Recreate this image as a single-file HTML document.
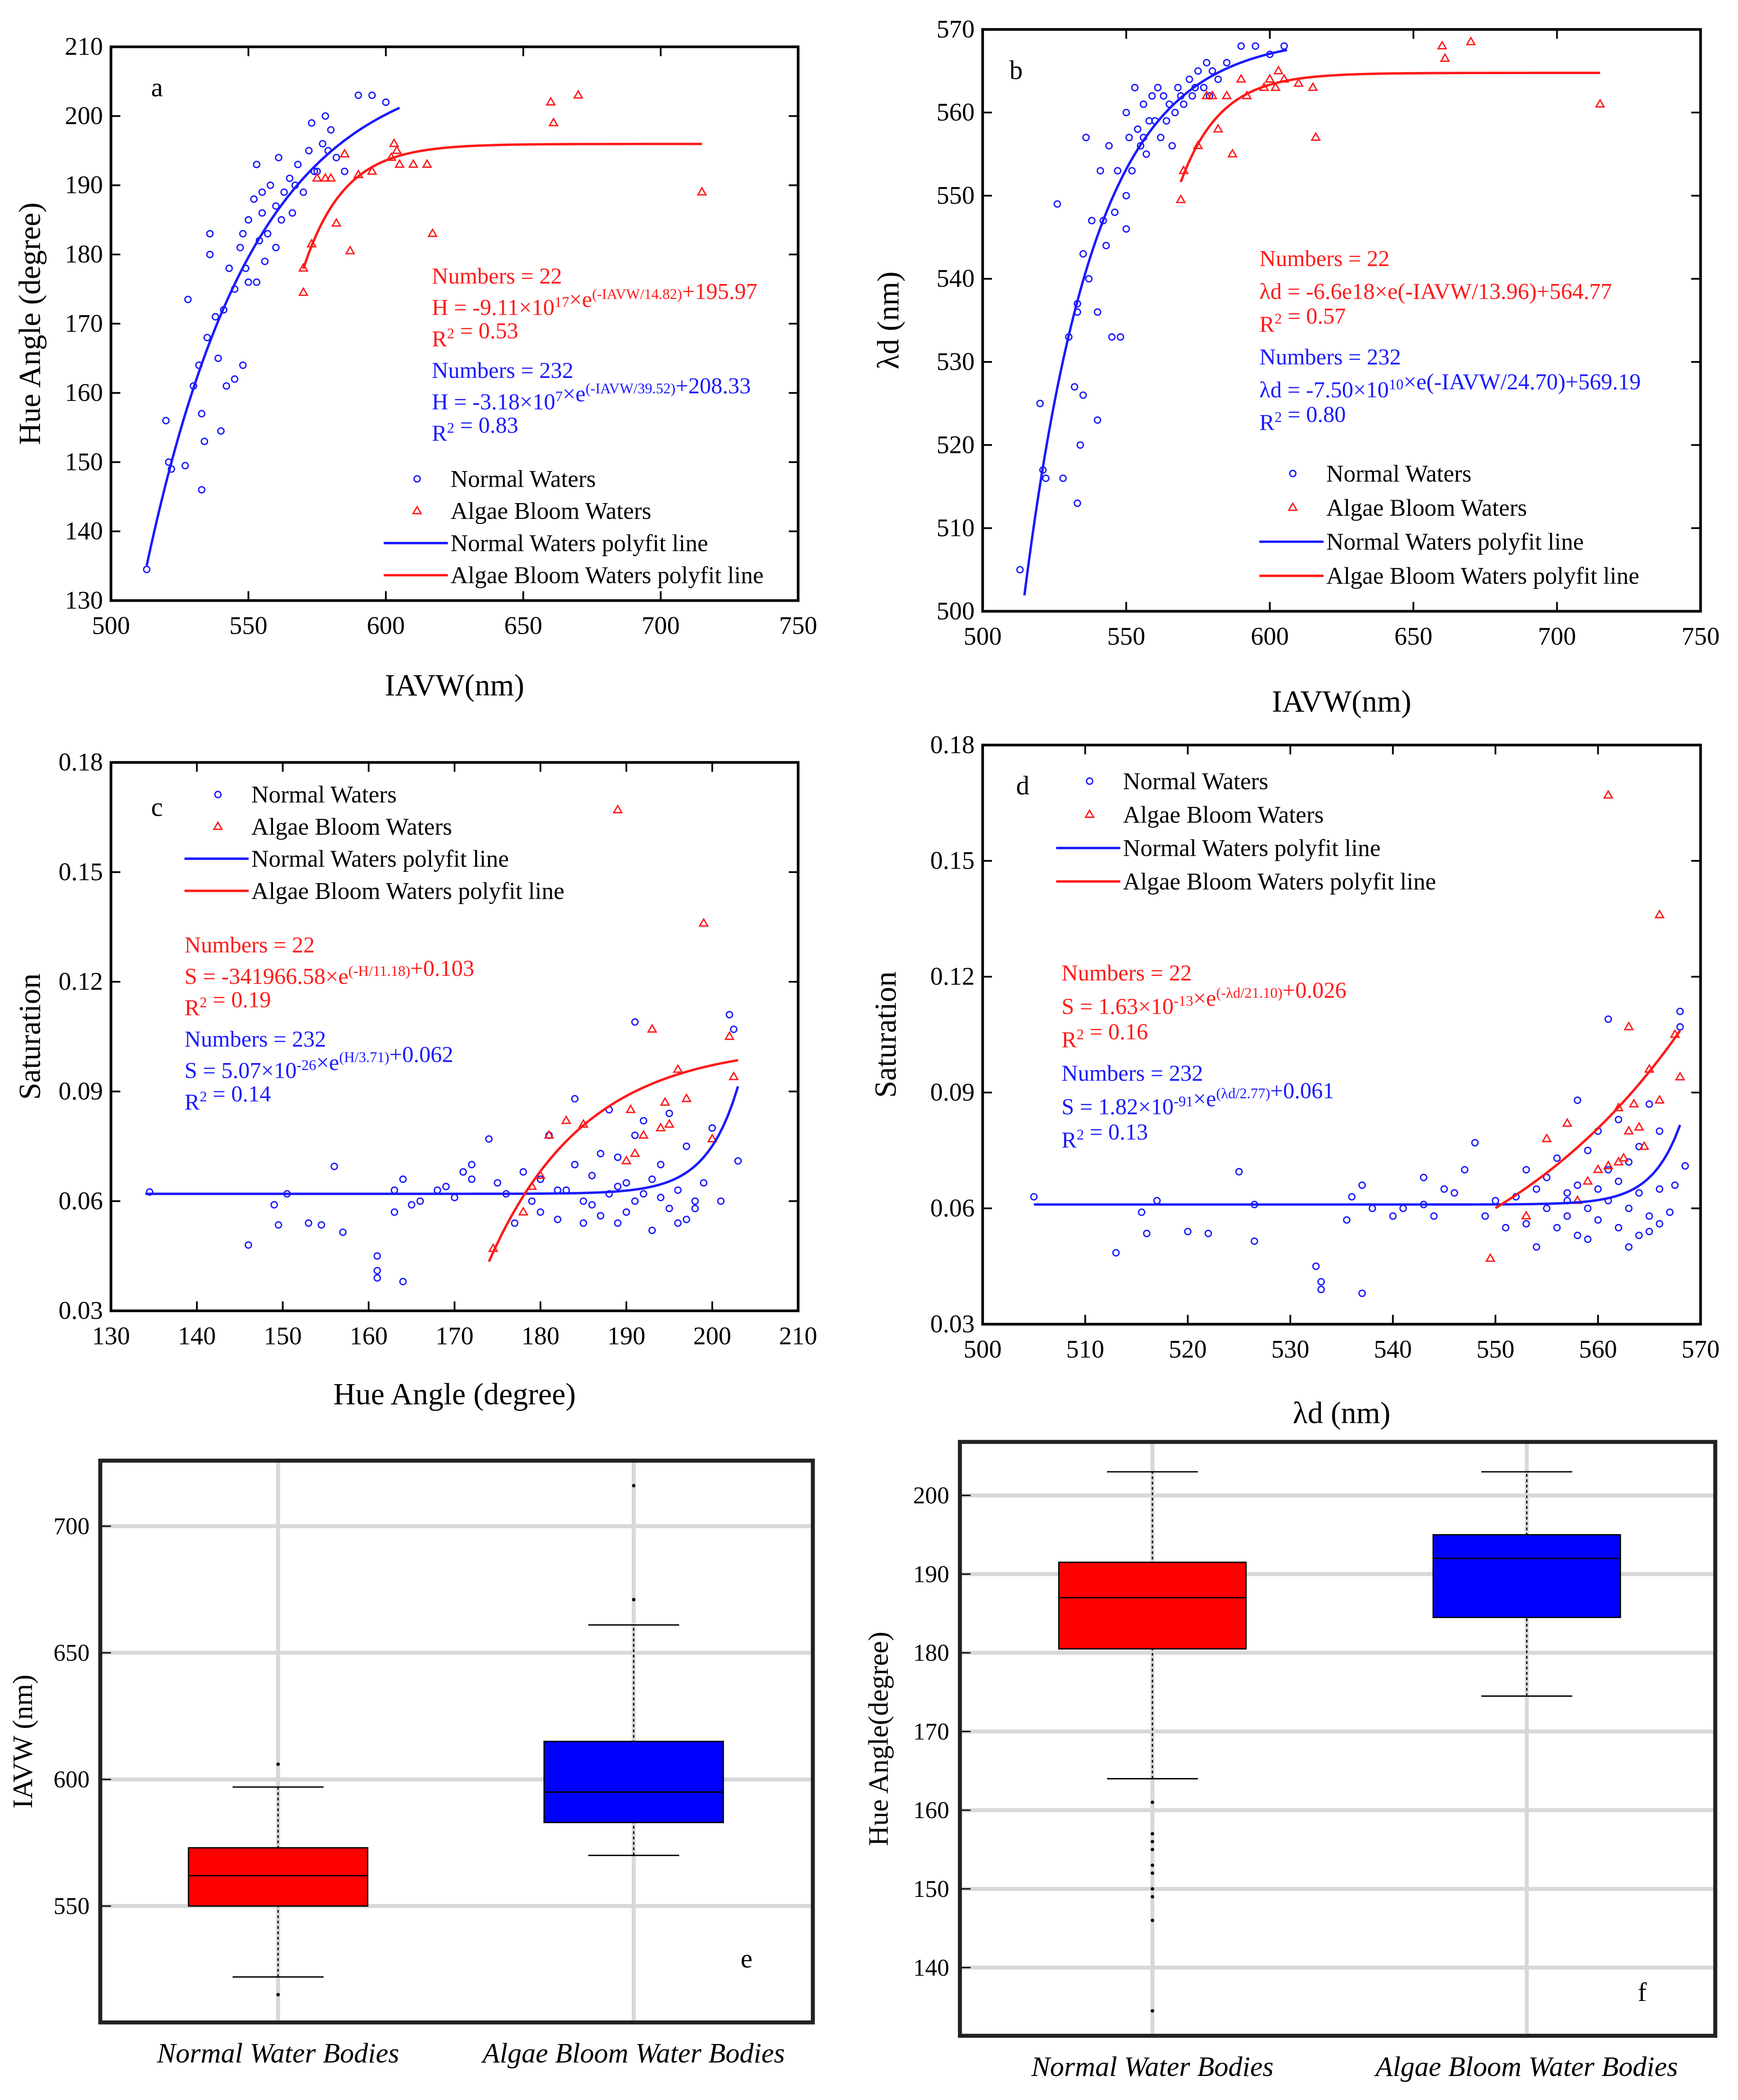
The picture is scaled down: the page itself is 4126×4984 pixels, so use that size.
<!DOCTYPE html>
<html><head><meta charset="utf-8"><style>
html,body{margin:0;padding:0;background:#fff}
svg{display:block}
svg text{font-family:"Liberation Serif",serif}
</style></head><body>
<svg id="root" width="4126" height="4984" viewBox="0 0 1300 1570" preserveAspectRatio="none" font-family="Liberation Serif, serif" xmlns="http://www.w3.org/2000/svg"></svg>
<script>
// ---------- data ----------
const aNormal=[[513,134.5],[520,156],[521,150],[522,149],[527,149.5],[528,173.5],[530,161],[532,164],[533,146],[533,157],[534,153],[535,168],[536,180],[536,183],[538,171],[539,165],[540,154.5],[541,172],[542,161],[543,178],[545,175],[545,162],[547,181],[548,164],[550,185],[550,176],[552,188],[553,193],[554,182],[555,186],[556,179],[558,190],[560,187],[561,194],[562,185],[563,189],[565,191],[566,186],[568,193],[570,189],[572,195],[573,199],[575,192],[577,196],[578,200],[580,198],[582,194],[585,192],[590,203],[595,203],[600,202],[555,189],[548,183],[557,183],[567,190],[574,192],[579,195],[553,176],[560,181],[549,178]];
const aAlgae=[[570,178],[570,174.5],[573,181.5],[575,191],[578,191],[582,184.5],[585,194.5],[587,180.5],[590,191.5],[602,194],[603,196],[604,195],[605,193],[610,193],[615,193],[617,183],[660,202],[661,199],[670,203],[715,189],[580,191],[595,192]];
const bNormal=[[513,505],[520,525],[521,517],[522,516],[526,549],[528,516],[530,533],[532,527],[533,537],[533,536],[533,513],[534,520],[535,526],[535,543],[536,557],[537,540],[538,547],[540,523],[540,536],[541,553],[542,547],[543,544],[544,556],[545,533],[546,548],[547,553],[548,533],[550,550],[550,560],[551,557],[552,553],[553,563],[554,558],[555,556],[556,561],[557,555],[558,559],[560,559],[561,563],[562,557],[563,562],[565,561],[566,556],[567,560],[568,563],[570,561],[572,564],[573,562],[575,565],[577,563],[578,566],[580,565],[582,564],[585,566],[590,568],[595,568],[600,567],[605,568],[550,546],[556,557],[559,562],[564,559],[569,562],[574,563],[579,562]];
const bAlgae=[[569,549.5],[570,553],[575,556],[578,562],[582,558],[585,562],[587,555],[590,564],[600,564],[602,563],[603,565],[605,564],[610,563.5],[615,563],[616,557],[660,568],[661,566.5],[670,568.5],[715,561],[580,562],[592,562],[598,563]];
const cNormal=[[134.5,0.0625],[146,0.048],[149,0.059],[149.5,0.0535],[150.5,0.062],[153,0.054],[154.5,0.0535],[156,0.0695],[157,0.0515],[161,0.045],[161,0.041],[161,0.039],[163,0.057],[163,0.063],[164,0.038],[164,0.066],[165,0.059],[166,0.06],[168,0.063],[169,0.064],[170,0.061],[171,0.068],[172,0.07],[172,0.066],[174,0.077],[175,0.065],[176,0.062],[177,0.054],[178,0.068],[179,0.06],[180,0.066],[181,0.078],[182,0.055],[183,0.063],[184,0.088],[184,0.07],[185,0.06],[186,0.067],[187,0.056],[187,0.073],[188,0.085],[188,0.062],[189,0.054],[189,0.072],[190,0.065],[190,0.057],[191,0.109],[191,0.078],[192,0.062],[192,0.082],[193,0.066],[193,0.052],[194,0.07],[195,0.058],[195,0.084],[196,0.063],[197,0.055],[197,0.075],[198,0.058],[199,0.065],[200,0.08],[201,0.06],[202,0.111],[202.5,0.107],[203,0.071],[180,0.057],[182,0.063],[185,0.054],[186,0.059],[189,0.064],[191,0.06],[194,0.061],[196,0.054],[198,0.06]];
const cAlgae=[[174.5,0.047],[178,0.057],[179,0.064],[180,0.067],[181,0.078],[183,0.082],[185,0.081],[189,0.167],[190,0.071],[190.5,0.085],[191,0.073],[192,0.078],[193,0.107],[194,0.08],[194.5,0.087],[195,0.081],[196,0.096],[197,0.088],[199,0.136],[202,0.105],[202.5,0.094],[200,0.077]];
const dNormal=[[505,0.063],[513,0.0485],[515.5,0.059],[516,0.0535],[517,0.062],[520,0.054],[522,0.0535],[525,0.0695],[526.5,0.0515],[526.5,0.061],[532.5,0.045],[533,0.041],[533,0.039],[535.5,0.057],[536,0.063],[537,0.066],[537,0.038],[538,0.06],[540,0.058],[541,0.06],[543,0.061],[543,0.068],[544,0.058],[545,0.065],[546,0.064],[547,0.07],[548,0.077],[549,0.058],[550,0.062],[551,0.055],[552,0.063],[553,0.07],[554,0.065],[554,0.05],[555,0.06],[555,0.068],[556,0.073],[556,0.055],[557,0.062],[557,0.058],[558,0.066],[558,0.088],[558,0.053],[559,0.075],[559,0.06],[560,0.065],[560,0.057],[560,0.08],[561,0.07],[561,0.109],[561,0.062],[562,0.055],[562,0.083],[562,0.067],[563,0.06],[563,0.072],[563,0.05],[564,0.064],[564,0.076],[565,0.058],[565,0.087],[565,0.054],[566,0.065],[566,0.08],[567,0.059],[567.5,0.066],[568,0.111],[568,0.107],[568.5,0.071],[553,0.056],[557,0.064],[559,0.052],[564,0.053],[566,0.056]];
const dAlgae=[[549.5,0.047],[553,0.058],[555,0.078],[557,0.082],[558,0.062],[560,0.07],[561,0.167],[562,0.072],[562,0.086],[562.5,0.073],[563,0.107],[563,0.08],[563.5,0.087],[564,0.081],[564.5,0.076],[565,0.096],[566,0.088],[566,0.136],[567.5,0.105],[568,0.094],[561,0.071],[559,0.067]];
const eCategories=["Normal Water Bodies","Algae Bloom Water Bodies"];
const eStats=[[522,550,562,573,597],[570,583,595,615,661]];
const eOutliers=[[606,515],[671,716]];
const eTicks=[550,600,650,700];
const fCategories=["Normal Water Bodies","Algae Bloom Water Bodies"];
const fStats=[[164,180.5,187,191.5,203],[174.5,184.5,192,195,203]];
const fOutliers=[[161,157,156,155,153,152,150,149,146,134.5],[]];
const fTicks=[140,150,160,170,180,190,200];

// ---------- helpers ----------
const NS="http://www.w3.org/2000/svg";
const root=document.getElementById('root');
function mk(tag,attrs,parent,txt){const e=document.createElementNS(NS,tag);for(const k in attrs)e.setAttribute(k,attrs[k]);if(txt!==undefined)e.innerHTML=txt;(parent||root).appendChild(e);return e;}
function lin(d0,d1,r0,r1){return v=>r0+(v-d0)/(d1-d0)*(r1-r0);}
const BLUE="#1a1aff",RED="#ff1a1a";

function scatterPanel(o){
  const g=mk('g',{},root);
  
  
  const X=lin(o.xd[0],o.xd[1],o.box[0],o.box[2]);
  const Y=lin(o.yd[0],o.yd[1],o.box[3],o.box[1]);
  const [x0,y0,x1,y1]=o.box;
  o.xt.forEach(v=>{const x=X(v);
    mk('line',{x1:x,y1:y1,x2:x,y2:y1-7,stroke:'#000','stroke-width':1.3},g);
    mk('line',{x1:x,y1:y0,x2:x,y2:y0+7,stroke:'#000','stroke-width':1.3},g);
    const t=mk('text',{x:x,y:y1+25,'font-size':19,'text-anchor':'middle'},g,o.xf(v));});
  o.yt.forEach(v=>{const y=Y(v);
    mk('line',{x1:x0,y1:y,x2:x0+7,y2:y,stroke:'#000','stroke-width':1.3},g);
    mk('line',{x1:x1,y1:y,x2:x1-7,y2:y,stroke:'#000','stroke-width':1.3},g);
    const t=mk('text',{x:x0-6,y:y+6,'font-size':19,'text-anchor':'end'},g,o.yf(v));});
  mk('rect',{x:x0,y:y0,width:x1-x0,height:y1-y0,fill:'none',stroke:'#000','stroke-width':2},g);
  o.n.forEach(p=>{const c=mk('circle',{cx:X(p[0]),cy:Y(p[1]),r:2.3,fill:'none',stroke:BLUE,'stroke-width':1},g);
    });
  o.a.forEach(p=>{const x=X(p[0]),y=Y(p[1]);const t=mk('polygon',{points:`${x},${y-3.2} ${x-3},${y+2} ${x+3},${y+2}`,fill:'none',stroke:RED,'stroke-width':1},g);
    });
  [[o.fn,o.fnr,BLUE,'normal-fit-line'],[o.fa,o.far,RED,'algae-fit-line']].forEach(([f,r,c,nm])=>{
    let d='';for(let i=0;i<=120;i++){const v=r[0]+(r[1]-r[0])*i/120;let yv=f(v);if(yv<o.yd[0])continue;d+=(d?'L':'M')+X(v).toFixed(2)+','+Y(yv).toFixed(2);}
    const p=mk('path',{d:d,fill:'none',stroke:c,'stroke-width':1.8},g);});
  const lt=mk('text',{x:o.letter[0],y:o.letter[1],'font-size':20},g,o.letterT);
  const xt=mk('text',{x:(x0+x1)/2,y:o.xlabY,'font-size':23,'text-anchor':'middle'},g,o.xlab);
  const yt=mk('text',{x:0,y:0,'font-size':23,'text-anchor':'middle',transform:`translate(${o.ylabX},${(y0+y1)/2}) rotate(-90)`},g,o.ylab);
  const L=o.leg;const items=[['Normal Waters','c'],['Algae Bloom Waters','t'],['Normal Waters polyfit line','lb'],['Algae Bloom Waters polyfit line','lr']];
  items.forEach((it,i)=>{const y=L[1]+i*L[2];const lg=mk('g',{},g);
    const cx=L[0]+25;
    if(it[1]=='c')mk('circle',{cx:cx,cy:y-6,r:2.3,fill:'none',stroke:BLUE},lg);
    if(it[1]=='t')mk('polygon',{points:`${cx},${y-9.2} ${cx-3},${y-4} ${cx+3},${y-4}`,fill:'none',stroke:RED},lg);
    if(it[1]=='lb')mk('line',{x1:L[0],y1:y-6,x2:L[0]+48,y2:y-6,stroke:BLUE,'stroke-width':1.8},lg);
    if(it[1]=='lr')mk('line',{x1:L[0],y1:y-6,x2:L[0]+48,y2:y-6,stroke:RED,'stroke-width':1.8},lg);
    mk('text',{x:L[0]+50,y:y,'font-size':18},lg,it[0]);});
  o.eq.forEach((e,i)=>{const t=mk('text',{x:o.eqPos[0],y:o.eqPos[1]+i*o.eqPos[2],'font-size':17,fill:i<3?RED:BLUE},g,e);});
}
const sup=s=>`<tspan dy="-6" font-size="11">${s}</tspan><tspan dy="6"></tspan>`;

scatterPanel({name:'panel-a',box:[83,35,597,449],xd:[500,750],yd:[130,210],xt:[500,550,600,650,700,750],yt:[130,140,150,160,170,180,190,200,210],xf:v=>v,yf:v=>v,
  n:aNormal,a:aAlgae,fn:x=>-3.18e7*Math.exp(-x/39.52)+208.33,fnr:[513,605],fa:x=>-9.11e17*Math.exp(-x/14.82)+195.97,far:[570,715],
  letter:[113,72],letterT:'a',xlab:'IAVW(nm)',xlabY:520,ylab:'Hue Angle (degree)',ylabX:30,leg:[287,364,24],
  eq:['Numbers = 22','H = -9.11×10'+sup('17')+'×e'+sup('(-IAVW/14.82)')+'+195.97','R'+sup('2')+' = 0.53','Numbers = 232','H = -3.18×10'+sup('7')+'×e'+sup('(-IAVW/39.52)')+'+208.33','R'+sup('2')+' = 0.83'],eqPos:[323,212,23.5]});
scatterPanel({name:'panel-b',box:[735,22,1272,457],xd:[500,750],yd:[500,570],xt:[500,550,600,650,700,750],yt:[500,510,520,530,540,550,560,570],xf:v=>v,yf:v=>v,
  n:bNormal,a:bAlgae,fn:x=>-7.5e10*Math.exp(-x/24.7)+569.19,fnr:[513,606],fa:x=>-6.6e18*Math.exp(-x/13.96)+564.77,far:[569,715],
  letter:[755,59],letterT:'b',xlab:'IAVW(nm)',xlabY:532,ylab:'λd (nm)',ylabX:672,leg:[942,360,25.5],
  eq:['Numbers = 22','λd = -6.6e18×e(-IAVW/13.96)+564.77','R'+sup('2')+' = 0.57','Numbers = 232','λd = -7.50×10'+sup('10')+'×e(-IAVW/24.70)+569.19','R'+sup('2')+' = 0.80'],eqPos:[942,199,24.5]});
scatterPanel({name:'panel-c',box:[83,570,597,980],xd:[130,210],yd:[0.03,0.18],xt:[130,140,150,160,170,180,190,200,210],yt:[0.03,0.06,0.09,0.12,0.15,0.18],xf:v=>v,yf:v=>v.toFixed(2),
  n:cNormal,a:cAlgae,fn:h=>5.07e-26*Math.exp(h/3.71)+0.062,fnr:[134,203],fa:h=>-341966.58*Math.exp(-h/11.18)+0.103,far:[174,203],
  letter:[113,610],letterT:'c',xlab:'Hue Angle (degree)',xlabY:1050,ylab:'Saturation',ylabX:30,leg:[138,600,24],
  eq:['Numbers = 22','S = -341966.58×e'+sup('(-H/11.18)')+'+0.103','R'+sup('2')+' = 0.19','Numbers = 232','S = 5.07×10'+sup('-26')+'×e'+sup('(H/3.71)')+'+0.062','R'+sup('2')+' = 0.14'],eqPos:[138,712,23.5]});
scatterPanel({name:'panel-d',box:[735,557,1272,990],xd:[500,570],yd:[0.03,0.18],xt:[500,510,520,530,540,550,560,570],yt:[0.03,0.06,0.09,0.12,0.15,0.18],xf:v=>v,yf:v=>v.toFixed(2),
  n:dNormal,a:dAlgae,fn:l=>1.82e-91*Math.exp(l/2.77)+0.061,fnr:[505,568],fa:l=>1.63e-13*Math.exp(l/21.1)+0.026,far:[550,568],
  letter:[760,594],letterT:'d',xlab:'λd (nm)',xlabY:1064,ylab:'Saturation',ylabX:670,leg:[790,590,25],
  eq:['Numbers = 22','S = 1.63×10'+sup('-13')+'×e'+sup('(-λd/21.10)')+'+0.026','R'+sup('2')+' = 0.16','Numbers = 232','S = 1.82×10'+sup('-91')+'×e'+sup('(λd/2.77)')+'+0.061','R'+sup('2')+' = 0.13'],eqPos:[794,733,25]});

function boxPanel(o){
  const g=mk('g',{},root);
  
  
  const [x0,y0,x1,y1]=o.box;
  const Y=lin(o.yd[0],o.yd[1],o.yr[0],o.yr[1]);
  o.ticks.forEach(v=>{const y=Y(v);
    mk('line',{x1:x0,y1:y,x2:x1,y2:y,stroke:'#d8d8d8','stroke-width':3},g);
    mk('line',{x1:x0,y1:y,x2:x0+8,y2:y,stroke:'#000','stroke-width':1},g);
    const t=mk('text',{x:x0-8,y:y+6,'font-size':18,'text-anchor':'end'},g,v);});
  o.cats.forEach((c,i)=>{const cx=o.cx[i];const s=o.stats[i];
    mk('line',{x1:cx,y1:y0,x2:cx,y2:y1,stroke:'#d8d8d8','stroke-width':3},g);
    const bg=mk('g',{},g);
    mk('line',{x1:cx,y1:Y(s[0]),x2:cx,y2:Y(s[4]),stroke:'#000','stroke-width':1,'stroke-dasharray':'2,2'},bg);
    mk('line',{x1:cx-34,y1:Y(s[0]),x2:cx+34,y2:Y(s[0]),stroke:'#000','stroke-width':1},bg);
    mk('line',{x1:cx-34,y1:Y(s[4]),x2:cx+34,y2:Y(s[4]),stroke:'#000','stroke-width':1},bg);
    mk('rect',{x:cx-o.bw,y:Y(s[3]),width:2*o.bw,height:Y(s[1])-Y(s[3]),fill:o.colors[i],stroke:'#000','stroke-width':1},bg);
    mk('line',{x1:cx-o.bw,y1:Y(s[2]),x2:cx+o.bw,y2:Y(s[2]),stroke:'#000','stroke-width':1},bg);
    o.out[i].forEach(v=>{const d=mk('circle',{cx:cx,cy:Y(v),r:1.3,fill:'#000'},bg);});
    const t=mk('text',{x:cx,y:y1+30,'font-size':21,'font-style':'italic','text-anchor':'middle'},g,c);
  });
  mk('rect',{x:x0,y:y0,width:x1-x0,height:y1-y0,fill:'none',stroke:'#222','stroke-width':3},g);
  const lt=mk('text',{x:o.letter[0],y:o.letter[1],'font-size':20},g,o.letterT);
  const yt=mk('text',{x:0,y:0,'font-size':21,'text-anchor':'middle',transform:`translate(${o.ylabX},${(y0+y1)/2}) rotate(-90)`},g,o.ylab);
}
boxPanel({name:'panel-e',box:[75,1092,608,1512],yd:[550,700],yr:[1425,1141],ticks:eTicks,cats:eCategories,cx:[208,474],stats:eStats,out:eOutliers,bw:67,colors:['#ff0000','#0000ff'],letter:[554,1471],letterT:'e',ylab:'IAVW (nm)',ylabX:24});
boxPanel({name:'panel-f',box:[718,1078,1283,1522],yd:[140,200],yr:[1471,1118],ticks:fTicks,cats:fCategories,cx:[862,1142],stats:fStats,out:fOutliers,bw:70,colors:['#ff0000','#0000ff'],letter:[1225,1496],letterT:'f',ylab:'Hue Angle(degree)',ylabX:664});
</script>
</body></html>
